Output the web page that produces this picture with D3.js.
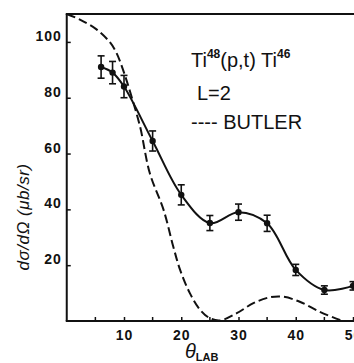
<!DOCTYPE html>
<html>
<head>
<meta charset="utf-8">
<script src="https://cdn.jsdelivr.net/npm/d3@7"></script>
<style>
html,body{margin:0;padding:0;background:#fff;}
svg{display:block;}
text{font-family:"Liberation Sans",Arial,sans-serif;fill:#111;}
</style>
</head>
<body>
<svg id="chart" width="354" height="363"></svg>
<script>
// measured cross sections (points with error bars)
const thetaData = [6, 8, 10, 15, 20, 25, 30, 35, 40, 45, 50];
const sigmaData = [91, 89, 84, 64.5, 45.2, 35.1, 39, 35, 18.3, 11.1, 12.6];
const errData   = [4, 4, 4, 3.6, 3.6, 2.7, 2.9, 2.9, 2, 1.5, 1.5];
// Butler (dashed) curve
const butlerTheta = [0, 2.3, 5.2, 7.6, 8.7, 10, 11.3, 12.8, 14.5, 16.9, 18.6, 19.8, 21.5, 23.3, 25, 26.8, 29.7, 32.6, 35.5, 37.8, 40.7, 44.2, 47.7, 48.3];
const butlerSigma = [110, 108, 104.5, 99.7, 96, 89, 80.5, 69.7, 53, 39.9, 26.7, 18.3, 10, 4, 1, 0.2, 2.8, 6.4, 8.5, 8.7, 6.9, 3.3, 0.4, 0];
const xTicks = [10, 20, 30, 40, 50];
const xMinor = [5, 15, 25, 35, 45];
const yTicks = [20, 40, 60, 80, 100];

const svg = d3.select("#chart");
const x = d3.scaleLinear().domain([0, 50]).range([66.75, 353]);
const y = d3.scaleLinear().domain([0, 110]).range([321, 14]);

// frame: left axis, bottom axis, top border
svg.append("line").attr("x1", x(0)).attr("x2", x(0)).attr("y1", y(110)).attr("y2", y(0))
  .attr("stroke", "#111").attr("stroke-width", 2);
svg.append("line").attr("x1", x(0) - 1).attr("x2", 354).attr("y1", y(0)).attr("y2", y(0))
  .attr("stroke", "#111").attr("stroke-width", 2);
svg.append("line").attr("x1", x(0) - 1).attr("x2", 354).attr("y1", y(110)).attr("y2", y(110))
  .attr("stroke", "#111").attr("stroke-width", 2);

const fontFam = '"Liberation Sans",Arial,sans-serif';

// y ticks (inward) + labels
const yAxis = d3.axisLeft(y).tickValues(yTicks).tickSize(-4).tickPadding(5).tickFormat(d3.format("d"));
const gy = svg.append("g").attr("transform", `translate(${x(0)},0)`).call(yAxis);
gy.select(".domain").remove();
gy.selectAll(".tick line").attr("stroke", "#111").attr("stroke-width", 1.5);
gy.selectAll(".tick text").attr("font-size", 14).attr("font-weight", "bold").attr("dy", "-0.1em")
  .attr("fill", "#111").attr("letter-spacing", "1px").style("font-family", fontFam);

// x ticks (inward) + labels
const xAxis = d3.axisBottom(x).tickValues(xTicks).tickSize(-4).tickPadding(9).tickFormat(d3.format("d"));
const gx = svg.append("g").attr("transform", `translate(0,${y(0)})`).call(xAxis);
gx.select(".domain").remove();
gx.selectAll(".tick line").attr("stroke", "#111").attr("stroke-width", 1.5);
gx.selectAll(".tick text").attr("font-size", 14).attr("font-weight", "bold").attr("fill", "#111")
  .attr("letter-spacing", "1px").style("font-family", fontFam);
svg.append("g").selectAll("line").data(xMinor).join("line")
  .attr("x1", d => x(d)).attr("x2", d => x(d)).attr("y1", y(0)).attr("y2", y(0) - 4)
  .attr("stroke", "#111").attr("stroke-width", 1.5);

// Butler dashed curve
const butler = butlerTheta.map((t, i) => [t, butlerSigma[i]]);
svg.append("path").datum(butler)
  .attr("d", d3.line().x(d => x(d[0])).y(d => y(d[1])).curve(d3.curveCatmullRom))
  .attr("fill", "none").attr("stroke", "#111").attr("stroke-width", 2)
  .attr("stroke-dasharray", "9,4");

// fitted solid curve through points
const pts = thetaData.map((t, i) => [t, sigmaData[i], errData[i]]);
svg.append("path").datum(pts)
  .attr("d", d3.line().x(d => x(d[0])).y(d => y(d[1])).curve(d3.curveCatmullRom))
  .attr("fill", "none").attr("stroke", "#111").attr("stroke-width", 2);

// error bars
const eb = svg.append("g").attr("stroke", "#111").attr("stroke-width", 1.6);
eb.selectAll("line.v").data(pts).join("line").attr("class", "v")
  .attr("x1", d => x(d[0])).attr("x2", d => x(d[0]))
  .attr("y1", d => y(d[1] - d[2])).attr("y2", d => y(d[1] + d[2]));
eb.selectAll("line.t").data(pts).join("line").attr("class", "t")
  .attr("x1", d => x(d[0]) - 3.5).attr("x2", d => x(d[0]) + 3.5)
  .attr("y1", d => y(d[1] + d[2])).attr("y2", d => y(d[1] + d[2]));
eb.selectAll("line.b").data(pts).join("line").attr("class", "b")
  .attr("x1", d => x(d[0]) - 3.5).attr("x2", d => x(d[0]) + 3.5)
  .attr("y1", d => y(d[1] - d[2])).attr("y2", d => y(d[1] - d[2]));
svg.append("g").selectAll("circle").data(pts).join("circle")
  .attr("cx", d => x(d[0])).attr("cy", d => y(d[1])).attr("r", 3.2).attr("fill", "#111");

// legend text
const t1 = svg.append("text").attr("x", 191).attr("y", 67).attr("font-size", 20);
t1.append("tspan").text("Ti");
t1.append("tspan").attr("font-size", 12).attr("font-weight", "bold").attr("dy", -9).text("48");
t1.append("tspan").attr("dy", 9).text("(p,t) Ti");
t1.append("tspan").attr("font-size", 12).attr("font-weight", "bold").attr("dy", -9).text("46");
svg.append("text").attr("x", 197).attr("y", 100).attr("font-size", 20).text("L=2");
svg.append("text").attr("x", 191).attr("y", 129).attr("font-size", 20).text("---- BUTLER");

// axis titles
svg.append("text").attr("transform", "translate(29,217) rotate(-90)")
  .attr("text-anchor", "middle").attr("font-size", 17).attr("font-style", "italic")
  .attr("letter-spacing", "0.5px").text("dσ/dΩ  (μb/sr)");
const xl = svg.append("text").attr("x", 185).attr("y", 358);
xl.append("tspan").attr("font-size", 20).attr("font-style", "italic").text("θ");
xl.append("tspan").attr("font-size", 11).attr("font-weight", "bold").attr("dy", 3).text("LAB");
</script>
</body>
</html>
